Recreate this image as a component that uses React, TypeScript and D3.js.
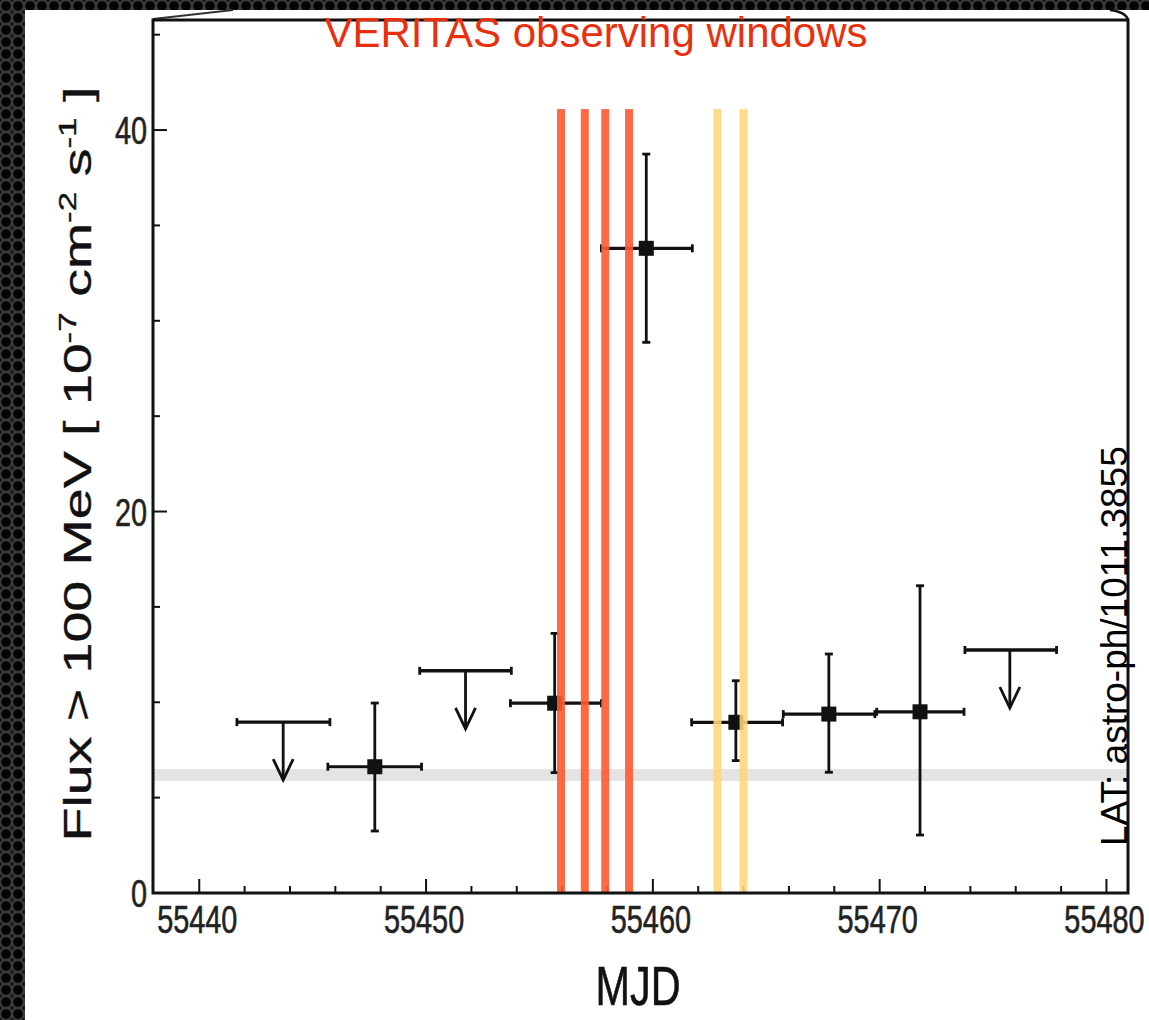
import React from "react";
import * as d3 from "d3";

// ---- data ----
const detX = [55447.74, 55455.67, 55459.71, 55463.66, 55467.76, 55471.78];
const detXLo = [55445.67, 55453.72, 55457.73, 55461.71, 55465.75, 55469.87];
const detXHi = [55449.8, 55457.73, 55461.74, 55465.72, 55469.79, 55473.72];
const detFlux = [6.62, 9.95, 33.8, 8.95, 9.38, 9.5];
const detFluxLo = [3.25, 6.31, 28.87, 6.94, 6.33, 3.04];
const detFluxHi = [9.96, 13.61, 38.74, 11.13, 12.53, 16.11];

const ulX = [55443.7, 55451.74, 55475.74];
const ulXLo = [55441.66, 55449.72, 55473.76];
const ulXHi = [55445.76, 55453.76, 55477.8];
const ulFlux = [8.96, 11.65, 12.74];

const redWindows = [55455.95, 55457.0, 55457.9, 55458.95];
const yellowWindows = [55462.85, 55464.0];
const windowTopFlux = 41.1;
const baselineFlux = 6.19;

const xMajorTicks = [55440, 55450, 55460, 55470, 55480];
const xMinorTicks = d3.range(55440, 55481, 2);
const yMajorTicks = [0, 20, 40];
const yMinorTicks = d3.range(0, 46, 5);

const title = "VERITAS observing windows";
const credit = "LAT: astro-ph/1011.3855";
const xLabel = "MJD";

// ---- layout ----
const W = 1149;
const H = 1020;
const L = 153, R = 1128, T = 20, B = 893;
const SQ = 0.74; // horizontal squish of the original figure's text
const FONT = "Liberation Sans, Arial, sans-serif";

export default function App() {
  const x = d3.scaleLinear().domain([55437.96, 55480.95]).range([L, R]);
  const y = d3.scaleLinear().domain([0, 45.77]).range([B, T]);
  const ink = "#111";
  const cap = 4;

  return (
    <div style={{ position: "absolute", left: 0, top: 0 }}>
      <svg width={W} height={H} style={{ display: "block" }}>
        <defs>
          <pattern id="holes" width="12" height="12" patternUnits="userSpaceOnUse">
            <rect width="12" height="12" fill="#3b3b3d" />
            <circle cx="6" cy="6" r="4.8" fill="#030303" />
            <circle cx="0" cy="0" r="2" fill="#1a1a1a" />
            <circle cx="12" cy="0" r="2" fill="#1a1a1a" />
            <circle cx="0" cy="12" r="2" fill="#1a1a1a" />
            <circle cx="12" cy="12" r="2" fill="#1a1a1a" />
          </pattern>
        </defs>
        <rect width={W} height={H} fill="url(#holes)" />
        <rect x={25} y={10} width={W - 25} height={H - 10} fill="#ffffff" />

        {/* cropping artefacts of the original figure at the top */}
        <path d={`M${L},${T - 1} L233,10`} stroke="#333" strokeWidth={2} fill="none" />
        <path d={`M1110,10 Q1126,12 ${R},${T}`} stroke={ink} strokeWidth={2.5} fill="none" />

        {/* baseline band */}
        <rect x={L} y={y(baselineFlux) - 6} width={R - L} height={12} fill="#e4e4e4" />

        {/* axis ticks */}
        {xMinorTicks.map((t) => {
          const major = xMajorTicks.includes(t);
          return (
            <line key={"xt" + t} x1={x(t)} x2={x(t)} y1={B} y2={B - (major ? 14 : 7)} stroke={ink} strokeWidth={2} />
          );
        })}
        {yMinorTicks.map((t) => {
          const major = yMajorTicks.includes(t);
          return (
            <line key={"yt" + t} x1={L} x2={L + (major ? 14 : 7)} y1={y(t)} y2={y(t)} stroke={ink} strokeWidth={2} />
          );
        })}

        {/* tick labels */}
        {xMajorTicks.map((t) => (
          <g key={"xl" + t} transform={`translate(${x(t) - 2},${933}) scale(${SQ},1)`}>
            <text textAnchor="middle" fontFamily={FONT} fontSize={39} fill="#222" stroke="#222" strokeWidth={0.6}>
              {t}
            </text>
          </g>
        ))}
        {yMajorTicks.map((t) => (
          <g key={"yl" + t} transform={`translate(${147},${y(t) + 14}) scale(${SQ},1)`}>
            <text textAnchor="end" fontFamily={FONT} fontSize={39} fill="#222" stroke="#222" strokeWidth={0.6}>
              {t}
            </text>
          </g>
        ))}

        {/* axis titles */}
        <g transform={`translate(${638},${1005}) scale(${SQ},1)`}>
          <text textAnchor="middle" fontFamily={FONT} fontSize={56} fill="#111" stroke="#111" strokeWidth={0.6}>
            {xLabel}
          </text>
        </g>
        <g transform={`translate(${91},${464}) rotate(-90) scale(1.46,1)`}>
          <text textAnchor="middle" fontFamily={FONT} fontSize={38} fill="#111" stroke="#111" strokeWidth={0.35}>
            <tspan>Flux &gt; 100 MeV [ 10</tspan>
            <tspan fontSize={24} dy={-15}>-7</tspan>
            <tspan dy={15}> cm</tspan>
            <tspan fontSize={24} dy={-15}>-2</tspan>
            <tspan dy={15}> s</tspan>
            <tspan fontSize={24} dy={-15}>-1</tspan>
            <tspan dy={15}> ]</tspan>
          </text>
        </g>

        {/* upper limits */}
        {ulX.map((v, i) => {
          const yy = y(ulFlux[i]);
          const xc = x(v);
          const tip = yy + 58;
          return (
            <g key={"ul" + i} stroke={ink} fill="none">
              <line x1={x(ulXLo[i])} x2={x(ulXHi[i])} y1={yy} y2={yy} strokeWidth={3.4} />
              <line x1={x(ulXLo[i])} x2={x(ulXLo[i])} y1={yy - cap} y2={yy + cap} strokeWidth={2.8} />
              <line x1={x(ulXHi[i])} x2={x(ulXHi[i])} y1={yy - cap} y2={yy + cap} strokeWidth={2.8} />
              <line x1={xc} x2={xc} y1={yy} y2={tip} strokeWidth={2.8} />
              <path d={`M${xc - 10},${tip - 21} L${xc},${tip} L${xc + 10},${tip - 21}`} strokeWidth={2.8} />
            </g>
          );
        })}

        {/* detections */}
        {detX.map((v, i) => {
          const yy = y(detFlux[i]);
          const xc = x(v);
          const y1 = y(detFluxHi[i]);
          const y0 = y(detFluxLo[i]);
          const xl = x(detXLo[i]);
          const xh = x(detXHi[i]);
          return (
            <g key={"pt" + i} stroke={ink} fill="none">
              <line x1={xl} x2={xh} y1={yy} y2={yy} strokeWidth={3.2} />
              <line x1={xl} x2={xl} y1={yy - cap} y2={yy + cap} strokeWidth={2.8} />
              <line x1={xh} x2={xh} y1={yy - cap} y2={yy + cap} strokeWidth={2.8} />
              <line x1={xc} x2={xc} y1={y1} y2={y0} strokeWidth={2.8} />
              <line x1={xc - cap} x2={xc + cap} y1={y1} y2={y1} strokeWidth={2.8} />
              <line x1={xc - cap} x2={xc + cap} y1={y0} y2={y0} strokeWidth={2.8} />
              <rect x={xc - 7.5} y={yy - 7.5} width={15} height={15} fill={ink} stroke="none" />
            </g>
          );
        })}

        {/* VERITAS windows */}
        {redWindows.map((v, i) => (
          <rect key={"rw" + i} x={x(v) - 4} y={y(windowTopFlux)} width={8} height={B - y(windowTopFlux)} fill="#ff5a30" opacity={0.9} />
        ))}
        {yellowWindows.map((v, i) => (
          <rect key={"yw" + i} x={x(v) - 4} y={y(windowTopFlux)} width={8} height={B - y(windowTopFlux)} fill="#fdd678" opacity={0.88} />
        ))}

        {/* frame */}
        <rect x={L} y={T} width={R - L} height={B - T} fill="none" stroke={ink} strokeWidth={3} />

        {/* slide annotations */}
        <text x={596} y={47} textAnchor="middle" fontFamily={FONT} fontSize={42} fill="#e8300e">
          {title}
        </text>
        <text transform={`translate(${1127},${846}) rotate(-90)`} fontFamily={FONT} fontSize={37} fill="#000">
          {credit}
        </text>
      </svg>
    </div>
  );
}
